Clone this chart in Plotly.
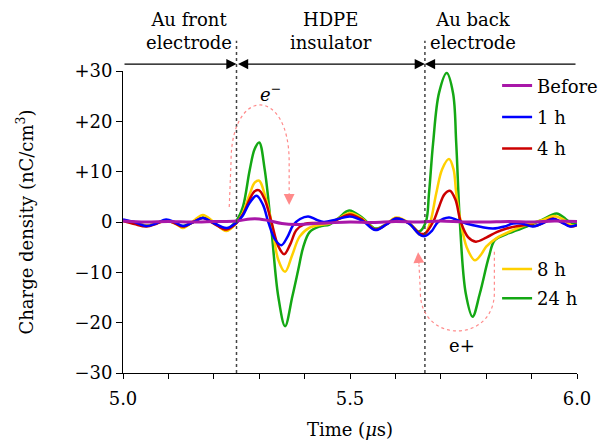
import plotly.graph_objects as go

# ---------------- data ----------------
before_t = [5.0, 5.05, 5.1, 5.15, 5.2, 5.25, 5.28, 5.30, 5.32, 5.35, 5.38, 5.42, 5.45, 5.5,
            5.55, 5.6, 5.65, 5.7, 5.75, 5.8, 5.85, 5.9, 5.95, 6.0]
before_y = [0.2, 0.0, 0.1, 0.0, 0.1, 0.2, 0.6, 0.6, 0.3, -0.3, -0.5, -0.3, -0.2, 0.0,
            -0.1, 0.1, 0.0, 0.2, 0.0, 0.0, 0.1, 0.0, 0.2, 0.1]

h1_t = [5.000, 5.025, 5.052, 5.075, 5.095, 5.115, 5.132, 5.155, 5.176, 5.200, 5.228, 5.250,
        5.264, 5.279, 5.294, 5.308, 5.320, 5.335, 5.349, 5.362, 5.375, 5.390, 5.408, 5.425,
        5.442, 5.470, 5.500, 5.528, 5.556, 5.580, 5.602, 5.630, 5.652, 5.665, 5.680, 5.694,
        5.718, 5.735, 5.756, 5.790, 5.815, 5.840, 5.859, 5.878, 5.903, 5.925, 5.947, 5.965,
        5.985, 6.000]
h1_y = [0.5, 0.0, -0.8, -0.2, 0.5, -0.1, -0.8, 0.0, 0.8, -0.2, -1.2, -0.1,
        1.3, 3.8, 5.2, 3.5, 0.0, -3.5, -4.6, -3.0, -0.6, 0.6, 1.1, 0.5,
        0.0, 0.5, 1.1, 0.2, -1.6, -0.5, 0.7, -0.3, -2.4, -2.8, -1.8, 0.0,
        0.9, 0.4, -0.3, -1.0, -1.3, -0.9, -0.3, -0.3, -0.9, -0.2, 0.6, 0.0,
        -0.9, -0.6]

h4_t = [5.000, 5.025, 5.052, 5.075, 5.095, 5.115, 5.132, 5.155, 5.176, 5.200, 5.228, 5.250,
        5.264, 5.279, 5.290, 5.300, 5.312, 5.327, 5.342, 5.355, 5.368, 5.382, 5.400, 5.425,
        5.455, 5.475, 5.500, 5.528, 5.556, 5.580, 5.602, 5.630, 5.655, 5.665, 5.683, 5.696,
        5.708, 5.720, 5.732, 5.744, 5.760, 5.777, 5.800, 5.823, 5.845, 5.870, 5.889, 5.907,
        5.925, 5.947, 5.965, 5.988, 6.000]
h4_y = [0.2, -0.4, -0.9, -0.3, 0.3, -0.3, -0.9, 0.0, 0.8, -0.3, -1.5, -0.2,
        1.5, 4.5, 6.1, 6.3, 4.5, 0.0, -4.8, -6.4, -4.5, -1.6, -0.4, -0.2,
        -0.1, 0.6, 1.5, 0.4, -1.5, -0.5, 0.7, -0.3, -2.3, -2.3, 0.0, 3.0,
        5.5, 6.2, 4.5, 0.0, -3.0, -3.9, -3.1, -2.0, -1.3, -0.8, -0.6, -0.8,
        -0.2, 0.7, 0.0, -0.9, -0.6]

h8_t = [5.000, 5.025, 5.052, 5.075, 5.095, 5.115, 5.132, 5.155, 5.176, 5.200, 5.228, 5.250,
        5.264, 5.279, 5.290, 5.300, 5.312, 5.327, 5.342, 5.357, 5.373, 5.389, 5.411, 5.433,
        5.455, 5.475, 5.500, 5.528, 5.556, 5.580, 5.602, 5.630, 5.655, 5.665, 5.677, 5.690,
        5.703, 5.718, 5.728, 5.734, 5.744, 5.757, 5.775, 5.790, 5.800, 5.823, 5.859, 5.890,
        5.925, 5.950, 5.970, 5.990, 6.000]
h8_y = [0.3, -0.2, -0.7, -0.2, 0.3, -0.3, -1.2, 0.2, 1.4, 0.0, -1.8, -0.2,
        1.8, 5.5, 7.8, 8.2, 5.5, 0.0, -7.5, -9.9, -6.5, -2.9, -1.1, -0.6,
        -0.3, 0.7, 1.8, 0.6, -1.5, -0.4, 0.9, -0.2, -2.6, -2.4, 0.0, 5.7,
        10.5, 12.5, 10.5, 5.7, 0.0, -5.0, -7.6, -6.3, -4.9, -3.2, -1.6, -0.5,
        0.4, 1.2, 0.5, -0.7, -0.5]

h24_t = [5.000, 5.025, 5.052, 5.075, 5.095, 5.115, 5.132, 5.155, 5.176, 5.200, 5.228, 5.250,
         5.264, 5.279, 5.290, 5.300, 5.312, 5.327, 5.342, 5.357, 5.373, 5.386, 5.397, 5.411,
         5.433, 5.455, 5.475, 5.498, 5.528, 5.556, 5.580, 5.602, 5.630, 5.652, 5.667, 5.674,
         5.683, 5.696, 5.713, 5.727, 5.734, 5.742, 5.755, 5.770, 5.786, 5.806, 5.819, 5.845,
         5.860, 5.889, 5.925, 5.955, 5.975, 5.990, 6.000]
h24_y = [0.3, -0.2, -0.7, -0.2, 0.3, -0.2, -0.8, 0.0, 0.9, -0.2, -1.4, 0.3,
         3.0, 10.3, 14.5, 15.8, 10.5, -1.6, -14.8, -20.7, -14.8, -9.5, -5.0, -2.0,
         -0.9, -0.5, 0.8, 2.3, 0.8, -1.3, -0.4, 0.7, -0.2, -1.9, 0.0, 5.7,
         15.6, 25.6, 29.6, 25.6, 15.6, 0.0, -14.2, -18.8, -14.2, -6.9, -3.6, -2.4,
         -1.9, -0.9, 0.5, 1.7, 0.6, -0.4, -0.2]

y_tickvals = [30, 20, 10, 0, -10, -20, -30]
y_ticktext = ["+30", "+20", "+10", "0", "\u221210", "\u221220", "\u221230"]
x_tickvals = [5.0, 5.1, 5.2, 5.3, 5.4, 5.5, 5.6, 5.7, 5.8, 5.9, 6.0]
x_ticktext = ["5.0", "", "", "", "", "5.5", "", "", "", "", "6.0"]

boundaries = [5.25, 5.665]
region_labels = ["Au front<br>electrode", "HDPE<br>insulator", "Au back<br>electrode"]
region_label_x = [5.145, 5.458, 5.772]

FONT = "DejaVu Serif"
FS = 18

series = [
    ("24 h", h24_t, h24_y, "#14a814", "legend2", 2, 2.5),
    ("8 h", h8_t, h8_y, "#ffd000", "legend2", 1, 2.5),
    ("4 h", h4_t, h4_y, "#cc0000", "legend", 3, 2.5),
    ("1 h", h1_t, h1_y, "#0000ff", "legend", 2, 2.5),
    ("Before", before_t, before_y, "#a817a8", "legend", 1, 3),
]

fig = go.Figure()
for name, t, y, col, leg, rank, w in series:
    fig.add_trace(go.Scatter(
        x=t, y=y, mode="lines", name=name,
        line=dict(color=col, width=w, shape="spline", smoothing=1.0),
        legend=leg, legendrank=rank, legendgroup=name,
    ))

shapes = []
for b in boundaries:
    shapes.append(dict(type="line", xref="x", yref="paper", x0=b, x1=b, y0=0, y1=1.10,
                       line=dict(color="#444444", width=1.5, dash="dot")))
pink = "#ff8a8a"
shapes.append(dict(type="path", xref="x", yref="y",
                   path="M 5.234,3 L 5.238,12 C 5.238,27 5.366,27 5.366,12 L 5.366,6",
                   line=dict(color=pink, width=1.2, dash="dot")))
shapes.append(dict(type="path", xref="x", yref="y",
                   path="M 5.818,-5.9 L 5.818,-14 C 5.818,-24.2 5.655,-24.2 5.655,-14 L 5.652,-8.5",
                   line=dict(color=pink, width=1.2, dash="dot")))

annotations = []
ya = 1.023
annotations.append(dict(x=boundaries[0], y=ya, xref="x", yref="paper", ax=5.0, axref="x",
                        ay=0, ayref="pixel", text="", showarrow=True, arrowhead=2,
                        arrowsize=1.7, arrowwidth=1.2, arrowcolor="black", standoff=0))
annotations.append(dict(x=boundaries[1], y=ya, xref="x", yref="paper", ax=boundaries[0], axref="x",
                        ay=0, ayref="pixel", text="", showarrow=True, arrowhead=2,
                        arrowside="end+start", arrowsize=1.7, arrowwidth=1.2,
                        arrowcolor="black", standoff=0, startstandoff=0))
annotations.append(dict(x=boundaries[1], y=ya, xref="x", yref="paper", ax=6.0, axref="x",
                        ay=0, ayref="pixel", text="", showarrow=True, arrowhead=2,
                        arrowsize=1.7, arrowwidth=1.2, arrowcolor="black", standoff=0))
for lbl, lx in zip(region_labels, region_label_x):
    annotations.append(dict(x=lx, y=1.132, xref="x", yref="paper", text=lbl, showarrow=False,
                            font=dict(family=FONT, size=FS, color="black"),
                            xanchor="center", yanchor="middle", align="center"))
annotations.append(dict(x=5.366, y=3.4, xref="x", yref="y", ax=5.366, ay=6.0, axref="x", ayref="y",
                        text="", showarrow=True, arrowhead=2, arrowsize=1.8, arrowwidth=1.2,
                        arrowcolor=pink, standoff=0))
annotations.append(dict(x=5.650, y=-6.0, xref="x", yref="y", ax=5.652, ay=-8.6, axref="x", ayref="y",
                        text="", showarrow=True, arrowhead=2, arrowsize=1.8, arrowwidth=1.2,
                        arrowcolor=pink, standoff=0))
annotations.append(dict(x=5.324, y=25.6, xref="x", yref="y", text="<i>e</i><sup>\u2212</sup>",
                        showarrow=False, font=dict(family=FONT, size=FS, color="black")))
annotations.append(dict(x=5.747, y=-24.5, xref="x", yref="y", text="e+",
                        showarrow=False, font=dict(family=FONT, size=FS, color="black")))

fig.update_layout(
    width=600, height=441,
    margin=dict(l=123, r=23, t=71, b=68, autoexpand=False),
    paper_bgcolor="white", plot_bgcolor="white",
    font=dict(family=FONT, size=FS, color="black"),
    shapes=shapes, annotations=annotations,
    legend=dict(x=0.824, y=1.012, xanchor="left", yanchor="top", bgcolor="rgba(0,0,0,0)",
                font=dict(family=FONT, size=FS), tracegroupgap=5, itemwidth=30,
                traceorder="grouped"),
    legend2=dict(x=0.824, y=0.405, xanchor="left", yanchor="top", bgcolor="rgba(0,0,0,0)",
                 font=dict(family=FONT, size=FS), tracegroupgap=3, itemwidth=30,
                 traceorder="grouped"),
)
fig.update_xaxes(range=[5.0, 6.0], tickvals=x_tickvals, ticktext=x_ticktext, automargin=False,
                 ticks="outside", ticklen=5, tickwidth=1, tickcolor="black", ticklabelstandoff=4,
                 showline=True, linecolor="black", linewidth=1, showgrid=False, zeroline=False,
                 title=dict(text="Time (<i>\u03bc</i>s)", font=dict(family=FONT, size=FS)),
                 tickfont=dict(family=FONT, size=FS))
fig.update_yaxes(range=[-30, 30], tickvals=y_tickvals, ticktext=y_ticktext, automargin=True,
                 ticks="outside", ticklen=6, tickwidth=1, tickcolor="black",
                 showline=True, linecolor="black", linewidth=1, showgrid=False, zeroline=False,
                 title=dict(text="Charge density (nC/cm<sup>3</sup>)", font=dict(family=FONT, size=FS),
                            standoff=36),
                 tickfont=dict(family=FONT, size=FS))

fig.write_html("out.html", config={"displayModeBar": False},
               post_script="document.body.style.margin='0px';document.body.style.overflow='hidden';")
